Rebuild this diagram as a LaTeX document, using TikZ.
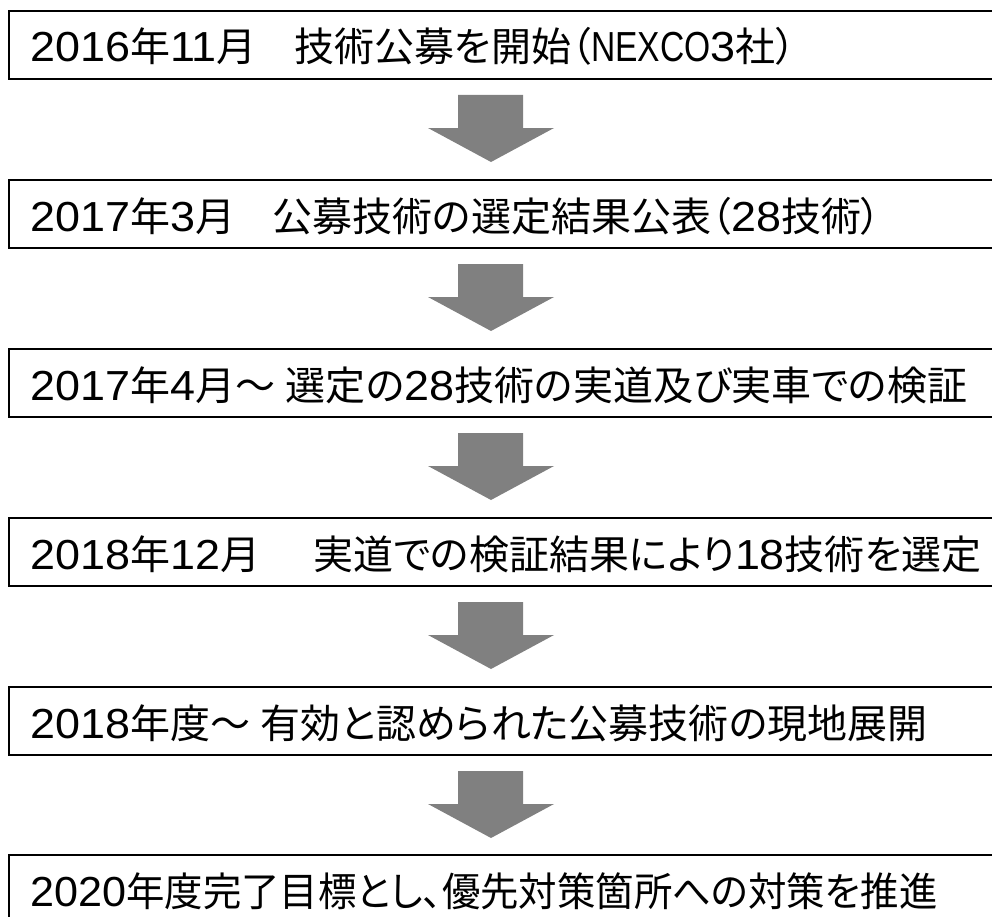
\documentclass[tikz,border=0pt]{standalone}
\usepackage{fontspec}
\setmainfont{Noto Sans CJK JP}[RawFeature=+palt]
\newfontfamily\latinpart{Liberation Sans}[FakeStretch=1.07]
\newfontfamily\latinnarrow{Liberation Sans}[FakeStretch=0.8]
\newcommand{\h}[1]{{\fontsize{31.5pt}{38pt}\latinpart #1}}
\newcommand{\hn}[1]{{\fontsize{31.5pt}{38pt}\latinnarrow #1}}
\usetikzlibrary{calc}
\definecolor{arrowgray}{RGB}{128,128,128}
\tikzset{
  stepbox/.style={draw=black, line width=1.6pt, rectangle, minimum width=760pt, minimum height=51pt, anchor=north west, inner sep=0pt},
  steptext/.style={anchor=base west, inner sep=0pt, font=\fontsize{30pt}{36pt}\selectfont},
  blockarrow/.style={fill=arrowgray, draw=none}
}
\newcommand{\flowarrow}[1]{%
  \fill[blockarrow] (458,#1) -- (523,#1) -- (523,#1+33) -- (554,#1+33) -- (491,#1+67) -- (428,#1+33) -- (458,#1+33) -- cycle;}
\begin{document}
\begin{tikzpicture}[x=0.75pt,y=-0.75pt]
\useasboundingbox (0,0) rectangle (992,917);
\clip (0,0) rectangle (992,917);
\node[stepbox] (b1) at (8,10) {};
\node[stepbox] (b2) at (8,179) {};
\node[stepbox] (b3) at (8,348) {};
\node[stepbox] (b4) at (8,517) {};
\node[stepbox] (b5) at (8,686) {};
\node[stepbox] (b6) at (8,854) {};
\node[steptext] (t1) at (30,62) {\h{2016}年\h{11}月\hspace{28pt}技術公募を開始（\hn{NEXCO}\h{3}社）};
\node[steptext] (t2) at (30,231) {\h{2017}年\h{3}月\hspace{28pt}公募技術の選定結果公表（\h{28}技術）};
\node[steptext] (t3) at (30,400) {\h{2017}年\h{4}月～\hspace{8pt}選定の\h{28}技術の実道及び実車での検証};
\node[steptext] (t4) at (30,569) {\h{2018}年\h{12}月\hspace{40pt}実道での検証結果により\h{18}技術を選定};
\node[steptext] (t5) at (30,738) {\h{2018}年度～\hspace{8pt}有効と認められた公募技術の現地展開};
\node[steptext, xscale=0.96, transform shape] (t6) at (30,906) {\h{2020}年度完了目標とし、優先対策箇所への対策を推進};
\flowarrow{95}
\flowarrow{264}
\flowarrow{433}
\flowarrow{602}
\flowarrow{771}
\end{tikzpicture}
\end{document}
